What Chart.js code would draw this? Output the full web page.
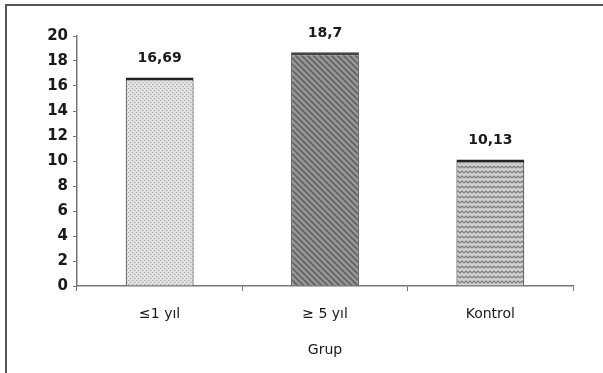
<!DOCTYPE html>
<html>
<head>
<meta charset="utf-8">
<script src="https://cdn.jsdelivr.net/npm/chart.js@4.4.1/dist/chart.umd.min.js"></script>
<style>
  body { margin: 0; background: #fff; }
  #wrap { position: relative; width: 603px; height: 373px; }
  #frame { position: absolute; left: 5px; top: 4px; right: 0; bottom: 0;
           border-top: 2px solid #555; border-left: 2px solid #555; pointer-events: none; }
</style>
</head>
<body>
<div id="wrap">
  <canvas id="myChart" width="603" height="373"></canvas>
  <div id="frame"></div>
</div>
<script>
// Grup bar chart
const categories = ["≤1 yıl", "≥ 5 yıl", "Kontrol"];
const values = [16.69, 18.7, 10.13];
const valueLabels = ["16,69", "18,7", "10,13"];
const yTicks = [0, 2, 4, 6, 8, 10, 12, 14, 16, 18, 20];

function makePattern(kind) {
  const c = document.createElement("canvas");
  const ctx = c.getContext("2d");
  if (kind === "dots") {
    c.width = 4; c.height = 4;
    ctx.fillStyle = "#e2e2e2";
    ctx.fillRect(0, 0, 4, 4);
    ctx.fillStyle = "#a8a8a8";
    ctx.fillRect(0, 0, 1, 1);
    ctx.fillRect(2, 2, 1, 1);
    ctx.fillStyle = "#c8c8c8";
    ctx.fillRect(1, 0, 1, 1);
    ctx.fillRect(3, 2, 1, 1);
  } else if (kind === "hatch") {
    c.width = 6; c.height = 6;
    ctx.fillStyle = "#959595";
    ctx.fillRect(0, 0, 6, 6);
    ctx.strokeStyle = "#5c5c5c";
    ctx.lineWidth = 1.5;
    ctx.beginPath();
    ctx.moveTo(-1, -1); ctx.lineTo(7, 7);
    ctx.moveTo(-4, 2); ctx.lineTo(2, 8);
    ctx.moveTo(2, -4); ctx.lineTo(8, 2);
    ctx.stroke();
  } else {
    c.width = 8; c.height = 5;
    ctx.fillStyle = "#cfcfcf";
    ctx.fillRect(0, 0, 8, 5);
    ctx.strokeStyle = "#7c7c7c";
    ctx.lineWidth = 1.2;
    ctx.beginPath();
    ctx.moveTo(0, 3); ctx.lineTo(2, 1); ctx.lineTo(4, 3); ctx.lineTo(6, 1); ctx.lineTo(8, 3);
    ctx.stroke();
  }
  return c.getContext("2d").createPattern(c, "repeat");
}

const fills = [makePattern("dots"), makePattern("hatch"), makePattern("wave")];

const valueLabelPlugin = {
  id: "valueLabels",
  afterDatasetsDraw(chart) {
    const ctx = chart.ctx;
    const meta = chart.getDatasetMeta(0);
    ctx.save();
    ctx.font = "bold 14px 'DejaVu Sans'";
    ctx.fillStyle = "#1a1a1a";
    ctx.textAlign = "center";
    ctx.textBaseline = "middle";
    meta.data.forEach((bar, i) => {
      ctx.fillText(valueLabels[i], bar.x, bar.y - 19);
    });
    ctx.restore();
  },
};

const area = document.querySelector("#myChart");
const myChart = new Chart(area, {
  type: "bar",
  data: {
    labels: categories,
    datasets: [
      {
        data: values,
        backgroundColor: fills,
        borderColor: ["#222", "#444", "#222"],
        borderWidth: { top: 3, left: 1, right: 1, bottom: 0 },
        borderSkipped: false,
        categoryPercentage: 1,
        barPercentage: 0.41,
      },
    ],
  },
  options: {
    responsive: false,
    animation: false,
    layout: { padding: { left: 0, right: 30, top: 36, bottom: 0 } },
    plugins: {
      legend: { display: false },
      tooltip: { enabled: false },
    },
    scales: {
      x: {
        afterFit: (s) => { s.height = 87; },
        grid: { display: true, drawOnChartArea: false, drawTicks: true, tickLength: 5, color: "#777", offset: true },
        border: { display: true, color: "#777", width: 1.5 },
        ticks: { color: "#1a1a1a", padding: 15, font: { family: "DejaVu Sans", size: 14 } },
        title: {
          display: true,
          text: "Grup",
          color: "#1a1a1a",
          padding: { top: 0, bottom: 14 },
          font: { family: "DejaVu Sans", size: 14 },
        },
      },
      y: {
        min: 0,
        max: 20,
        afterFit: (s) => { s.width = 77; },
        afterBuildTicks: (s) => { s.ticks = yTicks.map((v) => ({ value: v })); },
        grid: { display: true, drawOnChartArea: false, drawTicks: true, tickLength: 4, color: "#777" },
        border: { display: true, color: "#777", width: 1.5 },
        ticks: { color: "#1a1a1a", padding: 5, font: { family: "DejaVu Sans", size: 15, weight: "bold" } },
      },
    },
  },
  plugins: [valueLabelPlugin],
});
</script>
</body>
</html>
